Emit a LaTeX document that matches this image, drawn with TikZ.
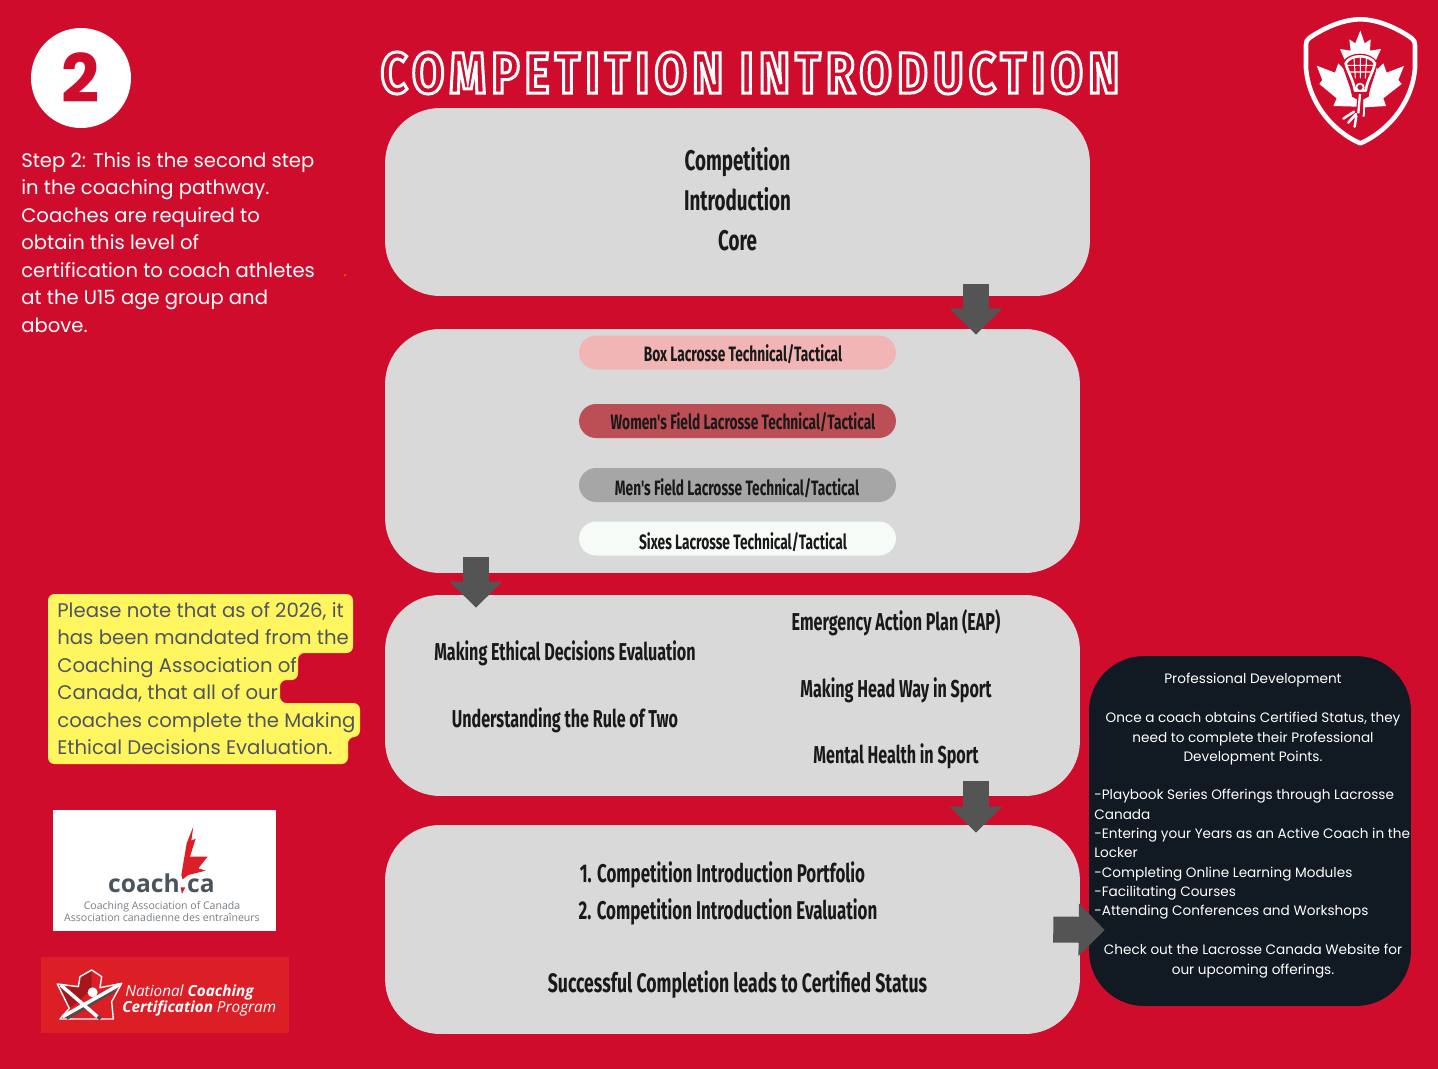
\documentclass[tikz,border=0pt]{standalone}
\usepackage{fontspec}
\usepackage{tikz}
\usetikzlibrary{arrows.meta, positioning}
\setmainfont{Poppins}
\newfontfamily\condfont{Fira Sans}[FakeStretch=0.66]
\newfontfamily\titlefont{Fira Sans}[FakeStretch=0.80,LetterSpace=9.7]
\newfontfamily\logofont{Open Sans}
\definecolor{pagered}{HTML}{D00C2D}
\definecolor{boxgrey}{HTML}{D9D9D9}
\definecolor{arrowgrey}{HTML}{545454}
\definecolor{pdnavy}{HTML}{111922}
\definecolor{noteyellow}{HTML}{FFF65F}
\definecolor{notetext}{HTML}{4F5560}
\definecolor{logored}{HTML}{DC1F26}
\definecolor{logotext}{HTML}{4A545C}
\definecolor{boxpink}{HTML}{F2B5B5}
\definecolor{womenred}{HTML}{BC4F55}
\definecolor{mengrey}{HTML}{A6A6A6}
\definecolor{sixeswhite}{HTML}{F6FBF8}

\begin{document}
\begin{tikzpicture}[
    x=0.02cm, y=-0.02cm,
    panel/.style={draw=none, fill=boxgrey, rounded corners=1.1cm, minimum width=#1, inner sep=0},
    pill/.style={fill=#1, rounded corners=0.34cm, minimum width=6.34cm, minimum height=0.68cm, inner sep=0},
    lbl/.style={font=\condfont\bfseries\fontsize{#1}{#1}\selectfont, text=black!90, inner sep=0, text height=1.24em, text depth=0.2em},
    pdtext/.style={font=\fontsize{7.75}{11}\selectfont, text=white, inner sep=0, align=center},
    flow/.style={draw=arrowgrey, line width=0.52cm, -{Triangle[length=0.52cm,width=1.02cm,fill=arrowgrey]}}
]
\fill[pagered] (0,0) rectangle (1438,1069);

% panels
\node[panel=14.1cm, minimum height=3.76cm] (core) at (737.5,202) {};
\node[panel=13.9cm, minimum height=4.88cm] (tech) at (732.5,451) {};
\node[panel=13.9cm, minimum height=4.02cm] (ethics) at (732.5,695.5) {};
\node[panel=13.9cm, minimum height=4.18cm] (eval) at (732.5,929.5) {};
\node[fill=pdnavy, rounded corners=1.1cm, minimum width=6.44cm, minimum height=7cm, inner sep=0] (pd) at (1250,831) {};

% heading
\node[circle, fill=white, minimum size=2cm, inner sep=0, font=\fontsize{38}{38}\selectfont\bfseries, text=pagered] (stepno) at (81,78) {2};
\node[font=\titlefont\bfseries\fontsize{33}{33}\selectfont, text=white, inner sep=0] (title) at (750,73) {\special{pdf:code 1 Tr 1.7 w}COMPETITION INTRODUCTION\special{pdf:code 0 Tr}};
\node[anchor=north west, align=left, text=white, inner sep=0, font=\fontsize{11.15}{15.65}\selectfont] (steptext) at (21,152) {Step 2: This is the second step\\in the coaching pathway.\\Coaches are required to\\obtain this level of\\certification to coach athletes\\at the U15 age group and\\above.};
\node[circle, fill=orange!60!red, minimum size=0.05cm, inner sep=0] (speck) at (345,275) {};

% core
\node[lbl=16.2] (c1) at (737.5,161) {Competition};
\node[lbl=16.2] (c2) at (737.5,201) {Introduction};
\node[lbl=16.2] (c3) at (737.5,241) {Core};

% technical streams
\node[pill=boxpink] (box) at (737.5,352.5) {};
\node[pill=womenred] (women) at (737.5,421) {};
\node[pill=mengrey] (men) at (737.5,485) {};
\node[pill=sixeswhite] (sixes) at (737.5,538.5) {};
\node[lbl=11.85] at (743,352) {Box Lacrosse Technical/Tactical};
\node[lbl=11.85] at (743,420) {Women's Field Lacrosse Technical/Tactical};
\node[lbl=11.85] at (737,486) {Men's Field Lacrosse Technical/Tactical};
\node[lbl=11.85] at (743,540) {Sixes Lacrosse Technical/Tactical};

% evaluations
\node[lbl=13.9] (e1) at (565,651) {Making Ethical Decisions Evaluation};
\node[lbl=13.9] (e2) at (565,718) {Understanding the Rule of Two};
\node[lbl=13.9] (e3) at (896,621) {Emergency Action Plan (EAP)};
\node[lbl=13.9] (e4) at (896,688) {Making Head Way in Sport};
\node[lbl=13.9] (e5) at (896,754) {Mental Health in Sport};

% portfolio
\node[lbl=14.6] (p1) at (722.5,873) {1. Competition Introduction Portfolio};
\node[lbl=14.6] (p2) at (728,910) {2. Competition Introduction Evaluation};
\node[lbl=15.2] (p3) at (737.5,983) {Successful Completion leads to Certified Status};

% professional development
\node[pdtext, anchor=north] (pd1) at (1253,673) {Professional Development};
\node[pdtext, anchor=north] (pd2) at (1253,712) {Once a coach obtains Certified Status, they\\need to complete their Professional\\Development Points.};
\node[pdtext, anchor=north west, align=left] (pd3) at (1094,789) {-Playbook Series Offerings through Lacrosse\\Canada\\-Entering your Years as an Active Coach in the\\Locker\\-Completing Online Learning Modules\\-Facilitating Courses\\-Attending Conferences and Workshops};
\node[pdtext, anchor=north] (pd4) at (1253,944) {Check out the Lacrosse Canada Website for\\our upcoming offerings.};

% yellow note
\fill[noteyellow, rounded corners=0.13cm] (48,594) -- (353,594) -- (353,653) -- (298,653) -- (298,680) -- (280,680) -- (280,703) -- (360,703) -- (360,737) -- (348,737) -- (348,764) -- (48,764) -- cycle;
\node[anchor=north west, align=left, text=notetext, inner sep=0, font=\fontsize{11.2}{15.65}\selectfont] (note) at (57,602) {Please note that as of 2026, it\\has been mandated from the\\Coaching Association of\\Canada, that all of our\\coaches complete the Making\\Ethical Decisions Evaluation.};

% connectors
\draw[flow] ([shift={(238.5,-12)}]core.south) -- ([shift={(243.5,6)}]tech.north);
\draw[flow] ([shift={(-256.5,-16)}]tech.south) -- ([shift={(-256.5,13)}]ethics.north);
\draw[flow] ([shift={(243.5,-15)}]ethics.south) -- ([shift={(243.5,8)}]eval.north);
\draw[flow] ([shift={(-27,0)}]eval.east) -- ([shift={(16,99)}]pd.west);

% lacrosse crest
\begin{scope}[shift={(1280,0)}, x=0.00667cm, y=-0.00667cm]
\draw[white, line width=2.6pt, line join=round] (241,58) .. controls (185,58) and (125,88) .. (88,114) .. controls (80,120) and (78,125) .. (78,135) -- (78,205) .. controls (85,300) and (150,390) .. (241,430) .. controls (332,390) and (398,300) .. (405,205) -- (405,135) .. controls (405,125) and (402,120) .. (394,114) .. controls (357,88) and (297,58) .. (241,58) -- cycle;
\fill[white] (241,92) -- (254,130) -- (272,118) -- (270,152) -- (303,147) -- (287,182) -- (292,208) -- (310,190) -- (320,218) -- (372,198) -- (355,240) -- (365,252) -- (310,295) -- (318,318) -- (255,322) -- (254,350) -- (248,350) -- (246,322) -- (232,320) -- (160,318) -- (170,295) -- (118,252) -- (127,240) -- (110,197) -- (165,218) -- (175,190) -- (192,208) -- (195,182) -- (180,147) -- (212,152) -- (208,118) -- (226,130) -- cycle;
\fill[pagered] (187,188) .. controls (205,152) and (275,152) .. (293,188) .. controls (288,225) and (270,255) .. (266,290) -- (250,298) -- (248,345) -- (228,345) -- (231,298) -- (216,290) .. controls (212,255) and (192,225) .. (187,188) -- cycle;
\draw[white, line width=1.5pt, line join=round] (197,190) .. controls (210,162) and (270,162) .. (285,190) .. controls (278,220) and (262,240) .. (257,272) -- (225,272) .. controls (220,240) and (205,220) .. (197,190) -- cycle;
\draw[white, line width=0.6pt] (222,172) -- (226,235) (241,168) -- (241,235) (260,172) -- (256,235) (203,196) -- (279,196) (208,216) -- (272,216);
\filldraw[fill=pagered, draw=white, line width=1pt] (240,262) circle (11);
\draw[white, line width=1.3pt] (240,282) -- (235,340);
\draw[white, line width=1.4pt, line cap=round] (190,356) -- (222,335) (205,368) -- (228,342) (224,380) -- (229,348);
\end{scope}

% coach logo
\fill[white] (53,810) rectangle (276,931);
\begin{scope}[shift={(30,800)}, x=0.00667cm, y=-0.00667cm]
\fill[logored] (490,80) -- (484,122) -- (497,116) -- (480,170) -- (533,170) -- (505,205) -- (527,212) -- (475,225) -- (458,238) -- (454,225) -- (465,160) -- (470,130) -- cycle;
\fill[logored] (452,262) -- (466,262) -- (456,282) -- cycle;
\end{scope}
\node[font=\logofont\fontsize{14}{14}\selectfont\bfseries, text=logotext, inner sep=0, anchor=base] (coach) at (144,892) {coach};
\node[font=\logofont\fontsize{14}{14}\selectfont\bfseries, text=logotext, inner sep=0, anchor=base] (ca) at (201,892) {ca};
\node[font=\logofont\fontsize{6}{7.3}\selectfont, text=logotext!75, inner sep=0, align=center] (cac) at (162,911.5) {Coaching Association of Canada\\Association canadienne des entraîneurs};

% nccp logo
\fill[logored] (41,957) rectangle (289,1033);
\begin{scope}[shift={(50,965)}, x=0.00667cm, y=-0.00667cm]
\fill[black!25!logored] (22,57) -- (85,65) -- (90,35) -- (125,15) -- (125,70) -- (85,110) -- (58,130) -- cycle;
\draw[white, line width=0.8pt, line join=round] (22,57) -- (85,65) -- (90,35) -- (125,15) -- (155,35) -- (150,68) -- (215,55) -- (185,110) -- (190,162) -- (30,162) -- (58,130) -- cycle;
\draw[black!70, line width=1.8pt] (42,72) -- (152,162) (195,75) -- (50,160);
\draw[white, line width=2pt] (32,60) -- (142,155) (210,58) -- (38,155);
\fill[white] (128,82) circle (15);
\end{scope}
\node[font=\logofont\itshape\fontsize{8.7}{8.7}\selectfont, text=white, inner sep=0, anchor=base west] (nccp1) at (125,996) {National \textbf{Coaching}};
\node[font=\logofont\itshape\fontsize{8.7}{8.7}\selectfont, text=white, inner sep=0, anchor=base west] (nccp2) at (122,1012) {\textbf{Certification} Program};
\end{tikzpicture}
\end{document}
